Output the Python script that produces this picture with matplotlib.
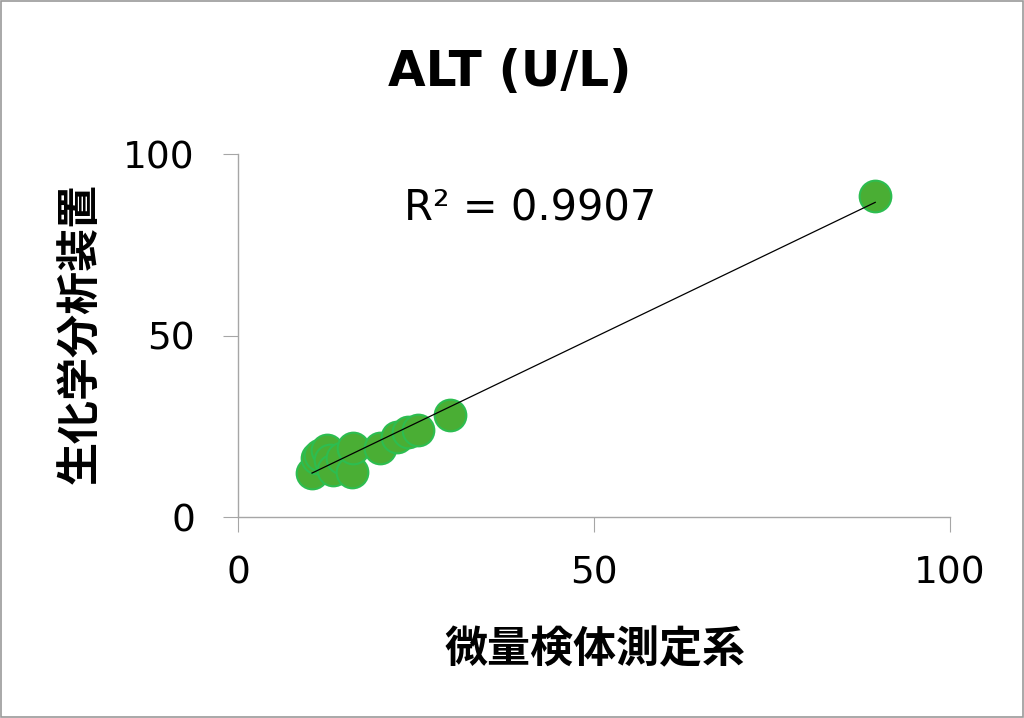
import numpy as np
import matplotlib.pyplot as plt
from matplotlib.patches import Rectangle

# 微量検体測定系 vs 生化学分析装置 (ALT)
x_vals = [10.4, 11.1, 11.5, 12.5, 12.9, 13.4, 14.6, 16.0, 16.2, 19.9, 22.3, 23.9, 25.3, 29.8, 89.5]
y_vals = [12.0, 16.2, 17.1, 18.5, 15.7, 12.9, 16.2, 12.5, 18.9, 18.9, 22.1, 23.5, 24.0, 28.1, 88.4]
r2_label = "R² = 0.9907"
title = "ALT (U/L)"
xlabel = "微量検体測定系"
ylabel = "生化学分析装置"
ticks = [0, 50, 100]

cjk = ['Noto Sans CJK JP', 'DejaVu Sans']

fig = plt.figure(figsize=(10.24, 7.18), dpi=100)
fig.add_artist(Rectangle((0.001, 0.001), 0.998, 0.997, transform=fig.transFigure,
                         fill=False, edgecolor='#9a9a9a', linewidth=1.2))
ax = fig.add_axes([0.2324, 0.2799, 0.6953, 0.5056])

ax.scatter(x_vals, y_vals, s=520, c='#4aae34', edgecolors='#2dbd50', linewidths=1.5,
           zorder=3, clip_on=False)

# linear trendline
k, b = np.polyfit(x_vals, y_vals, 1)
xs = np.array([min(x_vals), max(x_vals)])
ax.plot(xs, k * xs + b, color='black', linewidth=0.9, zorder=4)

ax.text(41, 85, r2_label, fontsize=30, family='DejaVu Sans', ha='center', va='center')

ax.set_xlim(0, 100)
ax.set_ylim(0, 100)
ax.set_xticks(ticks)
ax.set_yticks(ticks)
for s in ['top', 'right']:
    ax.spines[s].set_visible(False)
for s in ['left', 'bottom']:
    ax.spines[s].set_color('#a6a6a6')
    ax.spines[s].set_linewidth(1.0)
ax.tick_params(axis='both', direction='out', length=11, color='#a6a6a6', labelsize=27)
ax.tick_params(axis='y', pad=20)
ax.tick_params(axis='x', pad=17)

fig.text(0.498, 0.9, title, fontsize=35, fontweight='bold', family='DejaVu Sans',
         ha='center', va='center')
fig.text(0.581, 0.095, xlabel, fontsize=31, fontweight='bold', family=cjk,
         ha='center', va='center')
fig.text(0.078, 0.535, ylabel, fontsize=31, fontweight='bold', family=cjk,
         ha='center', va='center', rotation=90)

plt.savefig('out.png', dpi=100)
